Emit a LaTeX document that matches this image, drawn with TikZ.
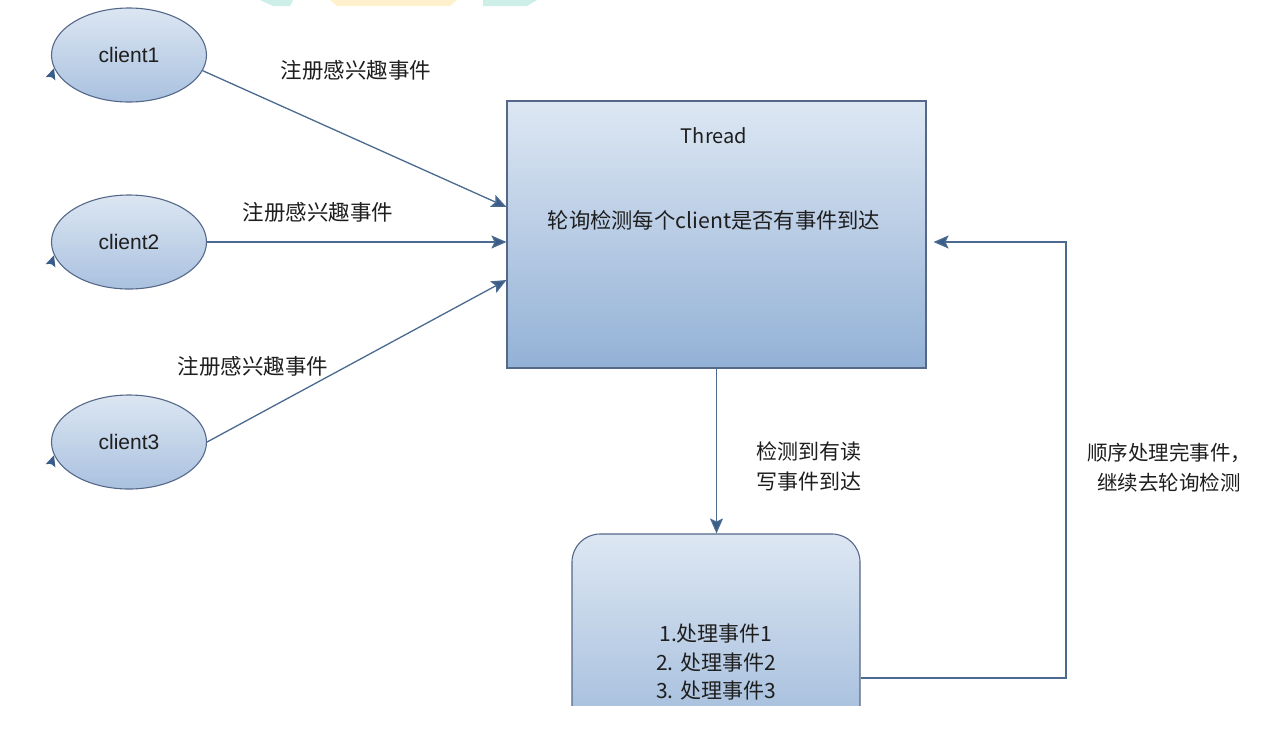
\documentclass[tikz,border=0pt]{standalone}
\usepackage{fontspec}
\setmainfont{Noto Sans CJK SC}
\newfontfamily\lat{Liberation Sans}
\usetikzlibrary{shapes.geometric,arrows.meta,calc}
\definecolor{lnc}{HTML}{4A6A8F}
\definecolor{tipc}{HTML}{3A5C88}
\definecolor{bdc}{HTML}{56688A}
\definecolor{ftop}{HTML}{DDE7F3}
\definecolor{fbot}{HTML}{93B1D6}
\definecolor{etop}{HTML}{DCE6F2}
\definecolor{ebot}{HTML}{A9C1DF}
\definecolor{txc}{HTML}{1E1E1E}
\definecolor{wmteal}{HTML}{CDEFE8}
\definecolor{wmyel}{HTML}{FFF1CC}
\tikzset{
  client/.style={ellipse, draw=bdc, line width=1.1pt, top color=etop, bottom color=ebot,
    minimum width=155pt, minimum height=94pt, inner sep=0pt, font=\lat\fontsize{21}{24}\selectfont, text=txc},
  threadbox/.style={rectangle, draw=bdc, line width=1.1pt, top color=ftop, bottom color=fbot,
    minimum width=419pt, minimum height=267pt, inner sep=0pt},
  procbox/.style={rectangle, rounded corners=28pt, draw=bdc, line width=1.1pt, top color=ftop, bottom color=fbot!90!white,
    minimum width=288pt, minimum height=215pt, inner sep=0pt},
  arr/.style={draw=lnc, line width=1.3pt, -{Stealth[length=15pt,width=13pt,inset=3pt,fill=tipc]}},
  smallarr/.style={draw=tipc, line width=1.3pt, -{Stealth[length=11pt,width=10pt,inset=2pt,fill=tipc]}},
  cjk/.style={font=\fontsize{21.5}{29}\selectfont, text=txc, inner sep=0pt, align=center},
}
\begin{document}
\begin{tikzpicture}[x=1pt,y=-1pt]
\useasboundingbox (0,0) rectangle (1276,740);
\fill[white] (0,0) rectangle (1276,740);
% watermark fragments
\fill[wmteal] (260,0) -- (293,0) -- (290,6) -- (273,6) -- cycle;
\fill[wmyel] (330,0) -- (457,0) -- (450,6) -- (337,6) -- cycle;
\fill[wmteal] (483,0) -- (537,0) -- (527,6) -- (483,6) -- cycle;
% clients
\node[client] (c1) at (129,55) {client1};
\node[client] (c2) at (129,242) {client2};
\node[client] (c3) at (129,442) {client3};
% small arrow tips at left of ellipses
\draw[smallarr] ($(c1.190)+(-3,9)$) -- (c1.190);
\draw[smallarr] ($(c2.190)+(-3,9)$) -- (c2.190);
\draw[smallarr] ($(c3.190)+(-3,9)$) -- (c3.190);
% thread box
\node[threadbox] (thread) at (716.5,234.5) {};
\node[font=\fontsize{20}{24}\selectfont, text=txc, inner sep=0pt] (ttl) at (714,136) {Thread};
\node[cjk, font=\fontsize{21.3}{24}\selectfont] (tmain) at (714,220) {轮询检测每个client是否有事件到达};
% process box (clipped at bottom)
\begin{scope}
\clip (0,0) rectangle (1276,705);
\node[procbox] (proc) at (716,641.5) {};
\end{scope}
\node[cjk, font=\fontsize{21}{24}\selectfont] (pl1) at (716,634) {1.处理事件1};
\node[cjk, font=\fontsize{21}{24}\selectfont] (pl2) at (716,663) {2. 处理事件2};
\node[cjk, font=\fontsize{21}{24}\selectfont] (pl3) at (716,691) {3. 处理事件3};
% coordinates
\coordinate (y207) at (0,207);
\coordinate (y280) at (0,280);
\coordinate (yr) at (0,678);
\coordinate (xr) at (1066,242);
% connectors
\draw[arr] (c1.-12) -- (thread.west |- y207);
\draw[arr] (c2.east) -- (c2.east -| thread.west);
\draw[arr] (c3.east) -- (thread.west |- y280);
\draw[arr] (thread.south) -- (thread.south |- proc.north);
\draw[arr, shorten >=7pt] (proc.east |- yr) -| (xr) -- (thread.east |- xr);
% labels
\node[cjk] (l1) at (356,70) {注册感兴趣事件};
\node[cjk] (l2) at (318,212) {注册感兴趣事件};
\node[cjk] (l3) at (253,366) {注册感兴趣事件};
\node[cjk, font=\fontsize{21}{30}\selectfont] (l4) at (809,466) {检测到有读\\写事件到达};
\node[cjk, font=\fontsize{20.5}{30}\selectfont] (l5) at (1169,468) {顺序处理完事件，\\继续去轮询检测};
\end{tikzpicture}
\end{document}
